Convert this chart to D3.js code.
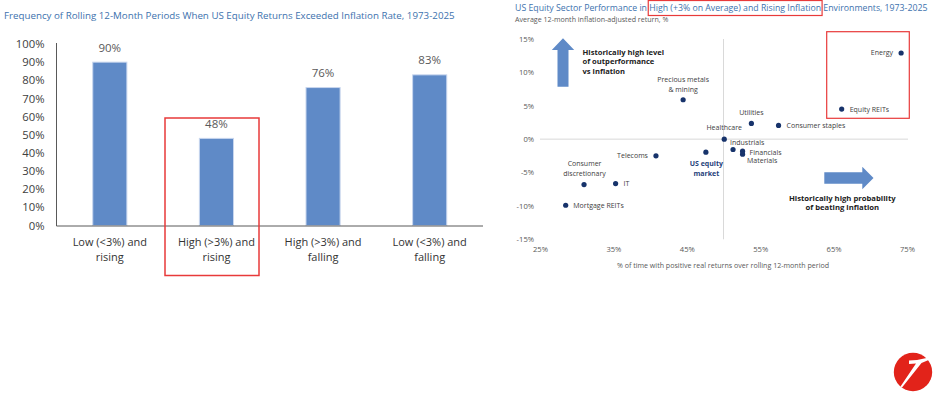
<!DOCTYPE html>
<html>
<head>
<meta charset="utf-8">
<script src="https://cdn.jsdelivr.net/npm/d3@7"></script>
<style>
  html, body { margin: 0; padding: 0; background: #fff; }
  svg { display: block; font-family: "Open Sans", "Noto Sans", sans-serif; }
</style>
</head>
<body>
<div id="chart"></div>
<script>
// left chart: share of rolling 12-month periods with equity returns > inflation
const barCategories = ["Low (<3%) and rising", "High (>3%) and rising", "High (>3%) and falling", "Low (<3%) and falling"];
const barValues = [90, 48, 76, 83];
const barTicks = [0, 10, 20, 30, 40, 50, 60, 70, 80, 90, 100];

// right chart: sector scatter
const sectors = ["Energy", "Equity REITs", "Precious metals & mining", "Utilities", "Consumer staples",
    "Healthcare", "Industrials", "Financials", "Materials", "US equity market",
    "Telecoms", "IT", "Consumer discretionary", "Mortgage REITs"];
const positiveShare = [0.742, 0.661, 0.445, 0.538, 0.575, 0.501, 0.513, 0.526, 0.526, 0.476, 0.408, 0.353, 0.310, 0.285];
const realReturn = [0.129, 0.045, 0.059, 0.0235, 0.0205, 0.0, -0.0155, -0.018, -0.0225, -0.0195, -0.025, -0.0665, -0.068, -0.099];
const xTicks = [0.25, 0.35, 0.45, 0.55, 0.65, 0.75];
const yTicks = [-0.15, -0.10, -0.05, 0, 0.05, 0.10, 0.15];

// label placement for each point (pixels relative to the dot)
const labelLayout = {
    "Energy": { dx: -8, dy: 0, anchor: "end", lines: ["Energy"] },
    "Equity REITs": { dx: 8, dy: 0, anchor: "start", lines: ["Equity REITs"] },
    "Precious metals & mining": { dx: 0, dy: -20, anchor: "middle", lines: ["Precious metals", "& mining"] },
    "Utilities": { dx: 0, dy: -11, anchor: "middle", lines: ["Utilities"] },
    "Consumer staples": { dx: 8, dy: 0, anchor: "start", lines: ["Consumer staples"] },
    "Healthcare": { dx: 0, dy: -12, anchor: "middle", lines: ["Healthcare"] },
    "Industrials": { dx: -3, dy: -6.5, anchor: "start", lines: ["Industrials"] },
    "Financials": { dx: 7, dy: 1, anchor: "start", lines: ["Financials"] },
    "Materials": { dx: 4.5, dy: 6.5, anchor: "start", lines: ["Materials"] },
    "US equity market": { dx: 0.5, dy: 11.7, anchor: "middle", lines: ["US equity", "market"], bold: true },
    "Telecoms": { dx: -8, dy: 0, anchor: "end", lines: ["Telecoms"] },
    "IT": { dx: 8, dy: 0, anchor: "start", lines: ["IT"] },
    "Consumer discretionary": { dx: 0.5, dy: -20.6, anchor: "middle", lines: ["Consumer", "discretionary"] },
    "Mortgage REITs": { dx: 7.6, dy: 0, anchor: "start", lines: ["Mortgage REITs"] }
};

const W = 948, H = 401;
const blueTitle = "#3d72ae";
const svg = d3.select("#chart").append("svg").attr("width", W).attr("height", H);

// ---------------- left bar chart ----------------
const left = svg.append("g");

left.append("text")
    .attr("x", 4).attr("y", 18.5)
    .attr("fill", blueTitle)
    .style("font-size", "9.75px")
    .text("Frequency of Rolling 12-Month Periods When US Equity Returns Exceeded Inflation Rate, 1973-2025");

const xb = d3.scaleBand().domain(barCategories).range([56.5, 483]).paddingInner(0.68).paddingOuter(0.34);
const yb = d3.scaleLinear().domain([0, 100]).range([225.5, 44]);

left.append("g")
    .attr("transform", "translate(56.5,0)")
    .call(d3.axisLeft(yb).tickValues(barTicks).tickSize(0).tickPadding(12).tickFormat(d => d + "%"))
    .call(g => g.select(".domain").remove())
    .selectAll("text")
    .attr("fill", "#404040")
    .style("font-size", "11.3px")
    .style("font-family", "'Open Sans', sans-serif");

left.selectAll("rect.bar")
    .data(barValues)
    .enter()
    .append("rect")
    .attr("class", "bar")
    .attr("x", (d, i) => xb(barCategories[i]))
    .attr("y", d => yb(d))
    .attr("width", xb.bandwidth())
    .attr("height", d => yb(0) - yb(d))
    .attr("fill", "#5f8ac7")
    .attr("stroke", "#c8d6ee")
    .attr("stroke-width", 1);

left.selectAll("text.val")
    .data(barValues)
    .enter()
    .append("text")
    .attr("class", "val")
    .attr("x", (d, i) => xb(barCategories[i]) + xb.bandwidth() / 2)
    .attr("y", d => yb(d) - 10.5)
    .attr("text-anchor", "middle")
    .attr("fill", "#595959")
    .style("font-size", "11.5px")
    .text(d => d + "%");

// axis lines
left.append("line").attr("x1", 56.5).attr("x2", 56.5).attr("y1", 43).attr("y2", 226)
    .attr("stroke", "#595959").attr("stroke-width", 1);
left.append("line").attr("x1", 56.5).attr("x2", 483).attr("y1", 226).attr("y2", 226)
    .attr("stroke", "#595959").attr("stroke-width", 1);

// category labels, wrapped after "and"
barCategories.forEach(c => {
    const parts = c.split(" and ");
    const t = left.append("text")
        .attr("text-anchor", "middle")
        .attr("fill", "#333")
        .style("font-size", "11px");
    const cx = xb(c) + xb.bandwidth() / 2;
    t.append("tspan").attr("x", cx).attr("y", 245.5).text(parts[0] + " and");
    t.append("tspan").attr("x", cx).attr("y", 260.5).text(parts[1]);
});

// highlight box
left.append("rect")
    .attr("x", 165).attr("y", 118)
    .attr("width", 94).attr("height", 157.5)
    .attr("fill", "none").attr("stroke", "#e83a3a").attr("stroke-width", 1.5);

// ---------------- right scatter ----------------
const right = svg.append("g");

const title = right.append("text")
    .attr("x", 515).attr("y", 11)
    .attr("fill", blueTitle)
    .style("font-size", "8.75px");
title.append("tspan").text("US Equity Sector Performance in ");
const hl = title.append("tspan").text("High (+3% on Average) and Rising Inflation");
title.append("tspan").text(" Environments, 1973-2025");

right.append("text")
    .attr("x", 515).attr("y", 21.8)
    .attr("fill", "#595959")
    .style("font-size", "7.1px")
    .text("Average 12-month inflation-adjusted return, %");

const xs = d3.scaleLinear().domain([0.25, 0.75]).range([540, 907]);
const ys = d3.scaleLinear().domain([-0.15, 0.15]).range([239.3, 39]);

// gridlines through 0% and 50%
right.append("line")
    .attr("x1", xs(0.25)).attr("x2", xs(0.75) + 1)
    .attr("y1", ys(0)).attr("y2", ys(0))
    .attr("stroke", "#d9d9d9").attr("stroke-width", 1);
right.append("line")
    .attr("x1", xs(0.5)).attr("x2", xs(0.5))
    .attr("y1", ys(0.15)).attr("y2", ys(-0.15))
    .attr("stroke", "#d9d9d9").attr("stroke-width", 1);

const tickFmt = d => Math.round(d * 100) + "%";

right.append("g")
    .attr("transform", `translate(${xs(0.25)},0)`)
    .call(d3.axisLeft(ys).tickValues(yTicks).tickSize(0).tickPadding(6).tickFormat(tickFmt))
    .call(g => g.select(".domain").remove())
    .selectAll("text")
    .attr("fill", "#595959")
    .style("font-size", "7.6px")
    .style("font-family", "'Open Sans', sans-serif");

right.append("g")
    .attr("transform", `translate(0,${ys(-0.15)})`)
    .call(d3.axisBottom(xs).tickValues(xTicks).tickSize(0).tickPadding(7.5).tickFormat(tickFmt))
    .call(g => g.select(".domain").remove())
    .selectAll("text")
    .attr("fill", "#595959")
    .style("font-size", "7.6px")
    .style("font-family", "'Open Sans', sans-serif");

right.append("text")
    .attr("x", 723).attr("y", 267.5)
    .attr("text-anchor", "middle")
    .attr("fill", "#595959")
    .style("font-size", "7.1px")
    .text("% of time with positive real returns over rolling 12-month period");

// dots
right.selectAll("circle.pt")
    .data(sectors)
    .enter()
    .append("circle")
    .attr("class", "pt")
    .attr("cx", (d, i) => xs(positiveShare[i]))
    .attr("cy", (d, i) => ys(realReturn[i]))
    .attr("r", 2.6)
    .attr("fill", "#17336b");

// point labels
sectors.forEach((s, i) => {
    const L = labelLayout[s];
    const px = xs(positiveShare[i]) + L.dx;
    const py = ys(realReturn[i]) + L.dy;
    const t = right.append("text")
        .attr("text-anchor", L.anchor)
        .attr("fill", L.bold ? "#1f3f7a" : "#404040")
        .style("font-size", "7px")
        .style("font-weight", L.bold ? "700" : "400");
    L.lines.forEach((line, k) => {
        t.append("tspan")
            .attr("x", px)
            .attr("y", py + k * 9.6)
            .attr("dy", "0.35em")
            .text(line);
    });
});

// arrows
const arrowFill = "#5f8ac7";
right.append("path")
    .attr("d", "M563,38.3 L574.2,50 L568.5,50 L568.5,86.7 L557.5,86.7 L557.5,50 L551.8,50 Z")
    .attr("fill", arrowFill);
right.append("path")
    .attr("d", "M824.3,172.3 L862.3,172.3 L862.3,166.7 L873.5,178 L862.3,189.3 L862.3,183.7 L824.3,183.7 Z")
    .attr("fill", arrowFill);

const ann1 = right.append("text").attr("fill", "#222").style("font-size", "7.6px").style("font-weight", "700");
["Historically high level", "of outperformance", "vs inflation"].forEach((l, k) =>
    ann1.append("tspan").attr("x", 582.5).attr("y", 52.3 + k * 9.4).attr("dy", "0.35em").text(l));

const ann2 = right.append("text").attr("fill", "#222").attr("text-anchor", "middle")
    .style("font-size", "7.7px").style("font-weight", "700");
["Historically high probability", "of beating inflation"].forEach((l, k) =>
    ann2.append("tspan").attr("x", 842.3).attr("y", 198.3 + k * 9.4).attr("dy", "0.35em").text(l));

// red highlight boxes
right.append("rect")
    .attr("x", 826.7).attr("y", 31.7).attr("width", 82.6).attr("height", 86.6)
    .attr("fill", "none").attr("stroke", "#e83a3a").attr("stroke-width", 1.2);

const hlWidth = hl.node().getComputedTextLength();
const hlStart = 515 + title.select("tspan").node().getComputedTextLength();
right.append("rect")
    .attr("x", hlStart - 1).attr("y", 0.5)
    .attr("width", hlWidth + 2).attr("height", 15)
    .attr("fill", "none").attr("stroke", "#e83a3a").attr("stroke-width", 1.2);

// logo
const logo = svg.append("g").attr("transform", "translate(913,372)");
logo.append("circle").attr("r", 19.2).attr("fill", "#e2231a");
logo.append("path")
    .attr("d", "M-4,-11.5 L4,-12 L16,-14.5 L18,-13 L8.5,-9 L-11,15.5 L-12.5,14.5 L3,-8.5 L-4,-8 Z")
    .attr("fill", "#fff");
</script>
</body>
</html>
